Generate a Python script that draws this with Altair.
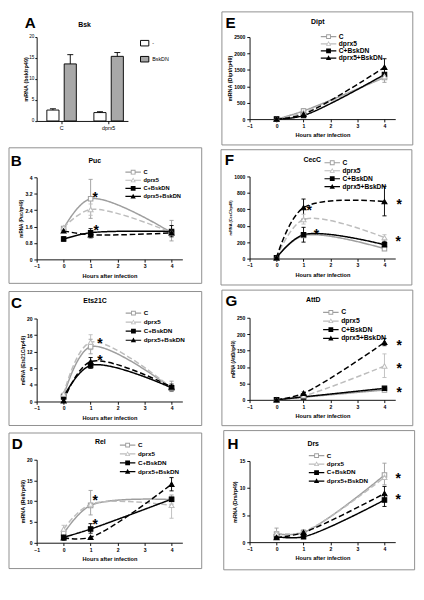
import altair as alt
import pandas as pd

S = 0.965


def p(v):
    return round(v * S, 2)


def p2(v):
    return round(v * S * S, 2)


FONT = "Liberation Sans"
BORDER = "#8c8c8c"

# ---------------- data ----------------
HOURS = [0, 1, 4]
SERIES = ["C", "dprx5", "C+BskDN", "dprx5+BskDN"]

# Panel A (Bsk)
BSK_GENOTYPES = ["C", "dprx5"]
BSK_GROUPS = ["-", "BskDN"]
BSK_MEAN = [2.6, 13.6, 2.0, 15.4]
BSK_UPPER = [2.9, 15.8, 2.2, 16.3]

# Panel B (Puc)
PUC = {"C": [1.5, 2.95, 1.3], "dprx5": [1.55, 2.43, 1.3],
       "C+BskDN": [0.99, 1.3, 1.36], "dprx5+BskDN": [1.39, 1.2, 1.29]}
PUC_ERR = [("C", 1, 2.0, 3.9), ("dprx5", 1, 2.15, 2.7), ("C+BskDN", 0, 0.9, 1.1),
           ("C+BskDN", 1, 1.05, 1.5), ("C", 4, 0.9, 1.9), ("C+BskDN", 4, 1.1, 1.65)]
PUC_STARS = [(1, 3.19), (1, 1.57)]

# Panel C (Ets21C)
ETS = {"C": [1.3, 13.2, 3.2], "dprx5": [1.8, 14.3, 3.3],
       "C+BskDN": [1.1, 8.7, 3.3], "dprx5+BskDN": [0.2, 9.6, 3.5]}
ETS_ERR = [("dprx5", 1, 12.5, 16.1), ("C", 1, 11.5, 15.0), ("C+BskDN", 1, 8.0, 9.5),
           ("dprx5+BskDN", 1, 9.0, 10.6), ("C", 4, 2.4, 4.9), ("C+BskDN", 4, 2.6, 4.2),
           ("C", 0, 0.8, 2.0)]
ETS_STARS = [(1, 14.9), (1, 10.7)]

# Panel D (Rel)
REL = {"C": [2.2, 9.0, 10.4], "dprx5": [3.3, 9.3, 9.0],
       "C+BskDN": [1.3, 3.3, 10.5], "dprx5+BskDN": [1.2, 1.3, 14.1]}
REL_ERR = [("C", 1, 6.7, 12.6), ("C+BskDN", 1, 2.3, 4.6), ("dprx5+BskDN", 4, 12.5, 15.7),
           ("dprx5", 4, 5.9, 10.5), ("C", 4, 9.3, 11.5), ("dprx5", 0, 2.4, 4.2),
           ("C+BskDN", 0, 0.6, 2.0)]
REL_STARS = [(1, 11.1), (1, 5.1)]

# Panel E (Dipt)
DIPT = {"C": [0, 250, 1270], "dprx5": [0, 200, 1300],
        "C+BskDN": [0, 110, 1360], "dprx5+BskDN": [0, 150, 1580]}
DIPT_ERR = [("dprx5+BskDN", 4, 1330, 1840), ("C", 4, 1120, 1420), ("C", 1, 170, 320)]
DIPT_STARS = []

# Panel F (CecC)
CECC = {"C": [10, 280, 120], "dprx5": [10, 475, 255],
        "C+BskDN": [10, 290, 168], "dprx5+BskDN": [10, 620, 694]}
CECC_ERR = [("dprx5+BskDN", 1, 480, 725), ("C+BskDN", 1, 200, 380), ("dprx5", 1, 420, 540),
            ("dprx5+BskDN", 4, 520, 880), ("dprx5", 4, 200, 290), ("C+BskDN", 4, 100, 210)]
CECC_STARS = [(1, 629), (1, 330), (4, 697), (4, 243)]

# Panel G (AttD)
ATTD = {"C": [0, 8, 30], "dprx5": [0, 12, 103],
        "C+BskDN": [0, 9, 35], "dprx5+BskDN": [0, 20, 175]}
ATTD_ERR = [("dprx5+BskDN", 4, 165, 187), ("dprx5", 4, 68, 140), ("C", 4, 25, 38),
            ("C", 1, 5, 25)]
ATTD_STARS = [(4, 175), (4, 106), (4, 33)]

# Panel H (Drs)
DRS = {"C": [1.5, 1.8, 12.4], "dprx5": [1.6, 1.9, 12.0],
       "C+BskDN": [1.0, 1.0, 7.8], "dprx5+BskDN": [0.85, 1.8, 9.0]}
DRS_ERR = [("C", 4, 10.6, 14.6), ("dprx5+BskDN", 4, 7.8, 10.3), ("C+BskDN", 4, 6.6, 8.8),
           ("C", 0, 0.8, 2.6), ("dprx5", 1, 1.4, 2.3)]
DRS_STARS = [(4, 12.3), (4, 8.5)]

# ---------------- styles ----------------
COLORS = ["#9e9e9e", "#bdbdbd", "#000000", "#000000"]
FILLS = ["#ffffff", "#ffffff", "#000000", "#000000"]
DASHES = [[1, 0], [p(6), p(3)], [1, 0], [p(6), p(3)]]
LEG_PATHS = [
    "M-2.1,-0.16H-0.65V0.16H-2.1Z M0.65,-0.16H2.1V0.16H0.65Z "
    "M-0.65,-0.65H0.65V0.65H-0.65Z M-0.4,-0.4V0.4H0.4V-0.4Z",
    "M-2.1,-0.16H-0.42V0.16H-2.1Z M0.42,-0.16H2.1V0.16H0.42Z "
    "M0,-0.75L0.72,0.55H-0.72Z M0,-0.32L-0.36,0.33H0.36Z",
    "M-2.1,-0.16H2.1V0.16H-2.1Z M-0.65,-0.65H0.65V0.65H-0.65Z",
    "M-2.1,-0.16H2.1V0.16H-2.1Z M0,-0.75L0.72,0.55H-0.72Z",
]
PW = 158  # plot width (ref px) for line panels

INDEP = dict(color="independent", fill="independent", stroke="independent",
             shape="independent", strokeDash="independent")

# guide-less scales list the series in reverse order so they never merge into the legend
SERIES_R = SERIES[::-1]
COLORS_R = COLORS[::-1]
FILLS_R = FILLS[::-1]
DASHES_R = DASHES[::-1]


def frame_layers(L, T, R, B, W, H, letter, gene, letter_pos, title_pos, stroke_opacity=1):
    info = pd.DataFrame({"letter": [letter], "gene": [gene]})
    base = alt.Chart(info)
    frame = base.mark_rect(fillOpacity=0, stroke=BORDER, strokeOpacity=stroke_opacity,
                           strokeWidth=1).encode(
        x=alt.value(p(-L)), x2=alt.value(p(W + R)),
        y=alt.value(p(-T)), y2=alt.value(p(H + B)))
    let = base.mark_text(align="left", baseline="alphabetic", fontSize=p(16.5),
                         fontWeight="bold", font=FONT, color="black").encode(
        text="letter:N", x=alt.value(p(letter_pos[0])), y=alt.value(p(letter_pos[1])))
    ttl = base.mark_text(align="center", baseline="middle", fontSize=p(7.5),
                         fontWeight="bold", font=FONT, color="black").encode(
        text="gene:N", x=alt.value(p(title_pos[0])), y=alt.value(p(title_pos[1])))
    return [frame, let, ttl]


def line_panel(letter, gene, vals, errs, stars, star_dx, ydom, yticks, ytitle, ytfs,
               box, H, letter_pos, title_pos, leg):
    L, T, R, B = box
    rows = [{"series": s, "hour": h, "value": v}
            for s in SERIES for h, v in zip(HOURS, vals[s])]
    df = pd.DataFrame(rows)
    edf = pd.DataFrame(errs, columns=["series", "hour", "lo", "hi"])

    xaxis = alt.Axis(values=[-1, 0, 1, 2, 3, 4], title="Hours after infection",
                     labelFlush=False, titlePadding=p(3.5))
    xscale = alt.Scale(domain=[-1, 4.4], nice=False, zero=False)
    yaxis = alt.Axis(values=yticks, format="~r", title=ytitle, titleFontSize=p(ytfs),
                     titlePadding=p(1.5))
    yscale = alt.Scale(domain=ydom, nice=False)
    sscale = alt.Scale(domain=SERIES_R, range=COLORS_R)
    fscale = alt.Scale(domain=SERIES_R, range=FILLS_R)

    def X():
        return alt.X("hour:Q", scale=xscale, axis=xaxis)

    def Y(field):
        return alt.Y(field, type="quantitative", scale=yscale, axis=yaxis)

    def STK():
        return alt.Stroke("series:N", scale=sscale, legend=None)

    layers = frame_layers(L, T, R, B, PW, H, letter, gene, letter_pos, title_pos)

    lines = alt.Chart(df).mark_line(interpolate="catmull-rom", strokeWidth=p(1.6)).encode(
        x=X(), y=Y("value"), stroke=STK(),
        strokeDash=alt.StrokeDash("series:N",
                                  scale=alt.Scale(domain=SERIES_R, range=DASHES_R),
                                  legend=None),
    )
    erule = alt.Chart(edf).mark_rule(strokeWidth=p(1)).encode(
        x=X(), y=Y("lo"), y2="hi:Q", stroke=STK())
    elo = alt.Chart(edf).mark_point(shape="stroke", size=p2(20), opacity=1,
                                    strokeWidth=p(1)).encode(
        x=X(), y=Y("lo"), stroke=STK())
    ehi = alt.Chart(edf).mark_point(shape="stroke", size=p2(20), opacity=1,
                                    strokeWidth=p(1)).encode(
        x=X(), y=Y("hi"), stroke=STK())

    squares = alt.Chart(df).transform_filter(
        alt.FieldOneOfPredicate(field="series", oneOf=["C", "C+BskDN"])
    ).mark_point(shape="square", size=p2(24), opacity=1, strokeWidth=p(1.1)).encode(
        x=X(), y=Y("value"),
        fill=alt.Fill("series:N", scale=fscale, legend=None), stroke=STK())
    tris = alt.Chart(df).transform_filter(
        alt.FieldOneOfPredicate(field="series", oneOf=["dprx5", "dprx5+BskDN"])
    ).mark_point(shape="triangle-up", size=p2(30), opacity=1, strokeWidth=p(1.1)).encode(
        x=X(), y=Y("value"),
        fill=alt.Fill("series:N", scale=fscale, legend=None), stroke=STK())

    lcx, lfy, lfs, lsp = leg
    lg = alt.Legend(orient="none", legendX=p(lcx - 4), legendY=p(lfy - 4), title=None,
                    symbolSize=p2(64), labelFontSize=p(lfs), labelFont=FONT,
                    labelFontWeight="bold", labelColor="black", labelOffset=p(7),
                    rowPadding=p(lsp - 8), padding=0, symbolStrokeWidth=0, labelLimit=300)
    legl = alt.Chart(df).transform_filter("datum.hour < -100").mark_point(
        filled=True, opacity=1, size=p2(64), strokeWidth=0).encode(
        x=X(), y=Y("value"),
        color=alt.Color("series:N", scale=alt.Scale(domain=SERIES, range=COLORS), legend=lg),
        shape=alt.Shape("series:N", scale=alt.Scale(domain=SERIES, range=LEG_PATHS),
                        legend=lg))

    layers += [lines, erule, elo, ehi, squares, tris, legl]

    for (h, v), dx in zip(stars, star_dx):
        sdf = pd.DataFrame({"hour": [h], "value": [v]})
        layers.append(alt.Chart(sdf).mark_text(
            text="*", fontSize=p(15), fontWeight="bold", font=FONT, color="black",
            align="center", baseline="alphabetic", dx=p(dx), dy=p(8.5)).encode(
            x=X(), y=Y("value")))

    return alt.layer(*layers).properties(width=p(PW), height=p(H))


def bar_panel():
    W, H = 99, 91
    L, T, R, B = 16, 30, 94, 21
    rows = []
    i = 0
    for g in BSK_GENOTYPES:
        for grp in BSK_GROUPS:
            rows.append({"genotype": g, "group": grp, "value": BSK_MEAN[i],
                         "hi": BSK_UPPER[i]})
            i += 1
    df = pd.DataFrame(rows)
    xscale = alt.Scale(domain=BSK_GENOTYPES, paddingInner=0.373, paddingOuter=0.157,
                       align=0.69)
    xaxis = alt.Axis(title=None, labelAngle=0, labelFontWeight="normal",
                     labelFontSize=p(5.8), labelPadding=p(2))
    yscale = alt.Scale(domain=[0, 20], nice=False)
    yaxis = alt.Axis(values=[0, 5, 10, 15, 20], title="mRNA (bsk/rp49)",
                     titleFontSize=p(6), titlePadding=p(0.5), tickSize=p(2),
                     labelPadding=p(1), labelFontSize=p(5), labelFontWeight="normal")
    oscale = alt.Scale(domain=BSK_GROUPS, paddingInner=0.3, paddingOuter=0)

    def X():
        return alt.X("genotype:N", scale=xscale, axis=xaxis)

    def XO():
        return alt.XOffset("group:N", scale=oscale)

    lg = alt.Legend(orient="none", legendX=p(113.5), legendY=p(3), title=None,
                    symbolType="M-1.5,-1H1.5V1H-1.5Z", symbolSize=p2(36),
                    symbolStrokeColor="black", symbolStrokeWidth=1,
                    rowPadding=p(6), padding=0, labelFont=FONT, labelFontSize=p(5.8),
                    labelColor="black", labelOffset=p(4.5))
    layers = frame_layers(L, T, R, B, W, H, "A", "Bsk", (-13, -10), (52, -13),
                          stroke_opacity=0)
    bars = alt.Chart(df).mark_bar(stroke="black", strokeWidth=p(1)).encode(
        x=X(), xOffset=XO(),
        y=alt.Y("value:Q", scale=yscale, axis=yaxis),
        fill=alt.Fill("group:N", scale=alt.Scale(domain=BSK_GROUPS,
                                                 range=["#ffffff", "#a8a8a8"]), legend=lg))
    erule = alt.Chart(df).mark_rule(color="black", strokeWidth=p(1)).encode(
        x=X(), xOffset=XO(), y=alt.Y("value:Q", scale=yscale, axis=yaxis), y2="hi:Q")
    ecap = alt.Chart(df).mark_tick(orient="horizontal", color="black", size=p(6.5),
                                   thickness=p(1), opacity=1).encode(
        x=X(), xOffset=XO(), y=alt.Y("hi:Q", scale=yscale, axis=yaxis))
    layers += [bars, erule, ecap]
    return alt.layer(*layers).properties(width=p(W), height=p(H))


A = bar_panel()
Bp = line_panel("B", "Puc", PUC, PUC_ERR, PUC_STARS, [5, 6], [0, 4],
                [0, 0.8, 1.6, 2.4, 3.2, 4], "mRNA (Puc/rp49)", 5,
                (30, 32, 21, 26), 89, (-28, -12), (63, -18), (104.5, -5.7, 6.2, 9.5))
Cp = line_panel("C", "Ets21C", ETS, ETS_ERR, ETS_STARS, [10, 10], [0, 20],
                [0, 4, 8, 12, 16, 20], "mRNA (Ets21C/rp49)", 5.5,
                (30, 29.3, 21, 26), 90, (-27.7, -11.3), (63.3, -18.6), (104.8, -6, 6.8, 9.5))
Dp = line_panel("D", "Rel", REL, REL_ERR, REL_STARS, [5, 5], [0, 20],
                [0, 5, 10, 15, 20], "mRNA (Rel/rp49)", 6,
                (30, 29, 21, 28), 90, (-27, -12), (69, -19), (98.5, -16, 6.8, 9.3))
Ep = line_panel("E", "Dipt", DIPT, DIPT_ERR, DIPT_STARS, [], [0, 2500],
                [0, 500, 1000, 1500, 2000, 2500], "mRNA (Dipt/rp49)", 6,
                (30, 27.3, 19, 28), 89, (-26, -9.3), (74, -16.3), (85.5, -0.6, 7.2, 8.5))
Fp = line_panel("F", "CecC", CECC, CECC_ERR, CECC_STARS, [6, 14, 16, 15], [0, 1000],
                [0, 200, 400, 600, 800, 1000], "mRNA (CecC/rp49)", 4.3,
                (31, 29, 18, 28.7), 89, (-27, -12), (68, -18), (89.5, -15, 7.2, 9.4))
Gp = line_panel("G", "AttD", ATTD, ATTD_ERR, ATTD_STARS, [16, 16, 16], [0, 250],
                [0, 50, 100, 150, 200, 250], "mRNA (AttD/rp49)", 4.8,
                (30, 30, 19, 28), 89, (-26, -13), (69, -19), (88, -6, 7.4, 9.1))
Hp = line_panel("H", "Drs", DRS, DRS_ERR, DRS_STARS, [15, 15], [0, 15],
                [0, 5, 10, 15], "mRNA (Drs/rp49)", 5.6,
                (28, 33, 21, 30), 88, (-24, -13), (69, -18), (72.5, -6, 6.8, 8.9))

left = alt.vconcat(A, Bp, Cp, Dp, spacing=p(6)).resolve_scale(**INDEP).resolve_legend(
    **INDEP)
right = alt.vconcat(Ep, Fp, Gp, Hp, spacing=p(3)).resolve_scale(**INDEP).resolve_legend(
    **INDEP)

chart = alt.hconcat(left, right, spacing=p(5)).resolve_scale(**INDEP).resolve_legend(
    **INDEP).properties(
    padding={"left": 0, "top": -13, "right": 0, "bottom": 0}, background="white"
).configure_view(stroke="transparent").configure_axis(
    domainColor="black", domainWidth=p(1), tickColor="black", tickWidth=p(1),
    tickSize=p(3), labelFont=FONT, labelFontSize=p(5.5), labelFontWeight="bold",
    labelColor="black", labelPadding=p(2), titleFont=FONT, titleFontWeight="bold",
    titleColor="black", titleFontSize=p(6.1), grid=False
).configure_legend(labelFont=FONT)

chart.save("out.html", embed_options={"renderer": "svg", "actions": False})
